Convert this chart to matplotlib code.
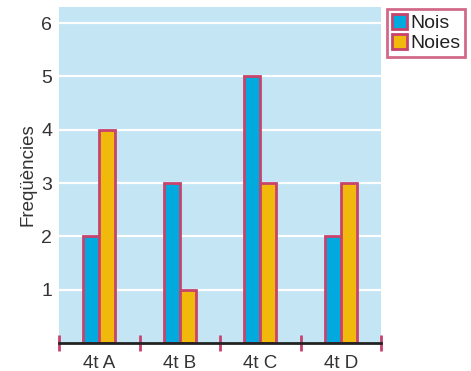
import matplotlib.pyplot as plt
from matplotlib.patches import Patch
import numpy as np

groups = ["4t A", "4t B", "4t C", "4t D"]
nois = [2, 3, 5, 2]
noies = [4, 1, 3, 3]
y_ticks = [1, 2, 3, 4, 5, 6]

BLUE = "#00a9de"
YELLOW = "#f2b90d"
EDGE = "#c8436c"
BG = "#c4e5f4"

plt.rcParams['font.family'] = ['Liberation Sans', 'DejaVu Sans']

fig = plt.figure(figsize=(4.71, 3.71), dpi=100)
ax = fig.add_axes([59 / 471, 1 - 343 / 371, 322 / 471, 336 / 371])
ax.set_facecolor(BG)

x = np.arange(len(groups))
w = 0.2
ax.bar(x - w / 2, nois, width=w, color=BLUE, edgecolor=EDGE, linewidth=2, zorder=3)
ax.bar(x + w / 2, noies, width=w, color=YELLOW, edgecolor=EDGE, linewidth=2, zorder=3)

ax.set_xlim(-0.5, len(groups) - 0.5)
ax.set_ylim(0, 6.3)

# white horizontal gridlines behind the bars
for yv in y_ticks:
    ax.axhline(yv, color="white", linewidth=1.6, zorder=1)

ax.set_yticks(y_ticks)
ax.set_yticklabels([str(v) for v in y_ticks], fontsize=14, color="#333333")
ax.tick_params(axis="y", length=0, pad=5)

ax.set_xticks(x)
ax.set_xticklabels(groups, fontsize=13.5, color="#333333")
ax.tick_params(axis="x", which="major", length=0, pad=9)
ax.set_xticks(np.arange(len(groups) + 1) - 0.5, minor=True)
ax.tick_params(axis="x", which="minor", length=11, width=2, color=EDGE, direction="inout")

for side in ["left", "right", "top"]:
    ax.spines[side].set_visible(False)
ax.spines["bottom"].set_color("#222222")
ax.spines["bottom"].set_linewidth(2)
ax.spines["bottom"].set_zorder(4)

ax.set_ylabel("Freqüències", fontsize=13.5, color="#333333", labelpad=3)

handles = [Patch(facecolor=BLUE, edgecolor=EDGE, linewidth=2, label="Nois"),
           Patch(facecolor=YELLOW, edgecolor=EDGE, linewidth=2, label="Noies")]
leg = fig.legend(handles=handles, loc="upper left",
                 bbox_to_anchor=(387 / 471, 1 - 9 / 371),
                 fontsize=14, fancybox=False, frameon=True,
                 borderaxespad=0, borderpad=0.25, handlelength=0.8,
                 handleheight=0.8, handletextpad=0.15, labelspacing=0.1)
leg.get_frame().set_edgecolor(EDGE)
leg.get_frame().set_linewidth(2)
for t in leg.get_texts():
    t.set_color("#222222")

fig.savefig("out.png", dpi=100)
